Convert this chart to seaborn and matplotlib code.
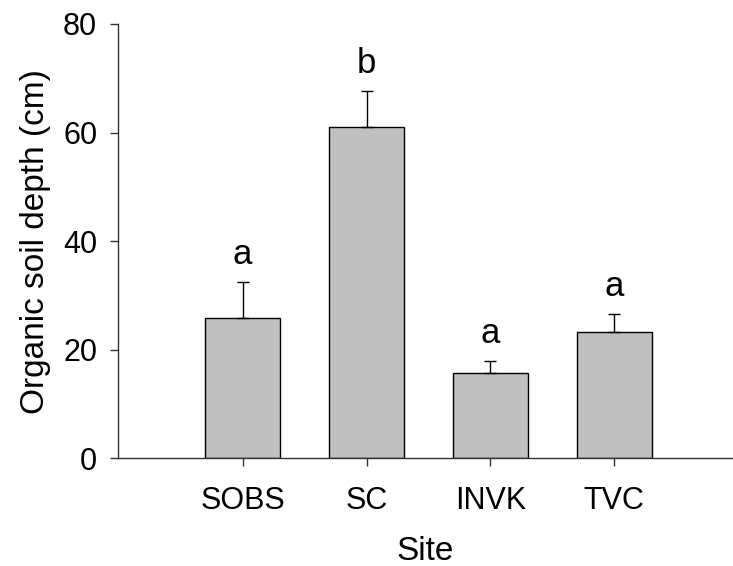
import matplotlib
matplotlib.use("Agg")
import matplotlib.pyplot as plt
import seaborn as sns
import pandas as pd

sites = ["SOBS", "SC", "INVK", "TVC"]
depth = [25.8, 61.0, 15.7, 23.2]
err_up = [6.6, 6.7, 2.2, 3.4]
letters = ["a", "b", "a", "a"]
y_ticks = [0, 20, 40, 60, 80]

sns.set_style("ticks")
plt.rcParams["font.family"] = ["Liberation Sans", "DejaVu Sans"]
plt.rcParams["text.color"] = "black"
plt.rcParams["axes.labelcolor"] = "black"
plt.rcParams["xtick.color"] = "black"
plt.rcParams["ytick.color"] = "black"

fig = plt.figure(figsize=(7.33, 5.66), dpi=100)
ax = fig.add_axes([118 / 733, 1 - 458.3 / 566, 1 - 118 / 733, (458.3 - 24) / 566])

df = pd.DataFrame({"Site": sites, "Depth": depth})
sns.barplot(data=df, x="Site", y="Depth", order=sites, color="#c0c0c0",
            edgecolor="black", linewidth=1.0, width=0.606, saturation=1,
            errorbar=None, ax=ax)

xs = list(range(len(sites)))
ax.errorbar(xs, depth, yerr=[[0] * len(sites), err_up], fmt="none",
            ecolor="black", elinewidth=1.0, capsize=4.4, capthick=1.0, zorder=3)

for x, d, e, lab in zip(xs, depth, err_up, letters):
    ax.annotate(lab, (x, d + e), xytext=(0, 13), textcoords="offset points",
                ha="center", va="baseline", fontsize=25, color="black")

ax.set_xlim(-1.007, 3.96)
ax.set_ylim(0, 80)
ax.set_yticks(y_ticks)
ax.set_yticklabels([str(t) for t in y_ticks])
ax.set_xlabel("Site", fontsize=24, labelpad=14, color="black")
ax.set_ylabel("Organic soil depth (cm)", fontsize=24, labelpad=9, color="black")
ax.tick_params(axis="both", labelsize=22, direction="out", length=6,
               width=1.0, color="#333333", labelcolor="black")
ax.tick_params(axis="x", pad=14)
ax.tick_params(axis="y", pad=9)
for s in ["top", "right"]:
    ax.spines[s].set_visible(False)
for s in ["left", "bottom"]:
    ax.spines[s].set_linewidth(1.0)
    ax.spines[s].set_color("#333333")
ax.spines["bottom"].set_clip_on(False)

fig.savefig("out.png", dpi=100)
